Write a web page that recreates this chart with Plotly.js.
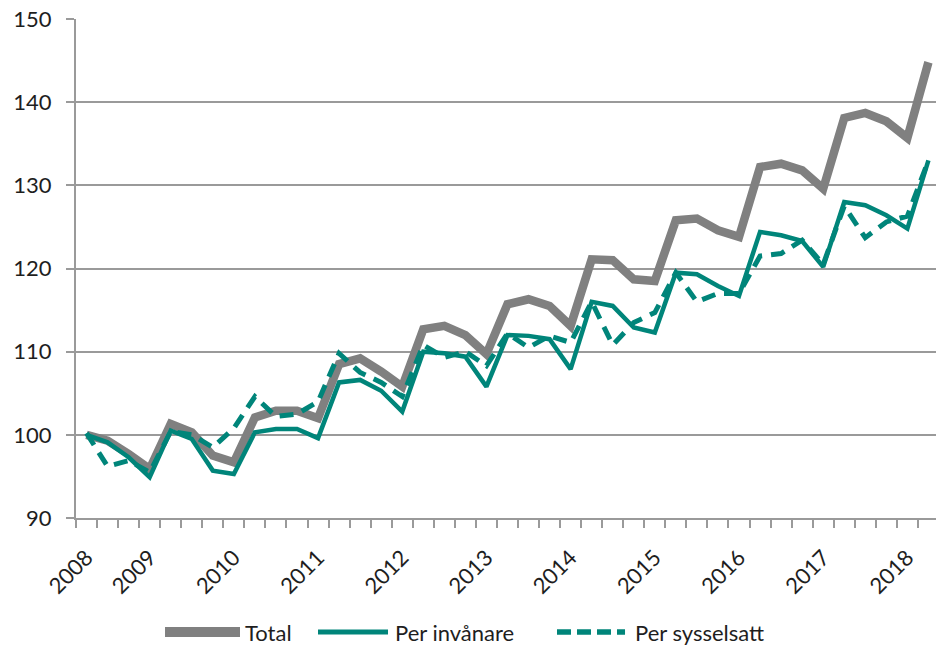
<!DOCTYPE html>
<html>
<head>
<meta charset="utf-8">
<script src="https://cdn.plot.ly/plotly-3.0.1.min.js"></script>
<style>
  html, body { margin: 0; padding: 0; background: #ffffff; overflow: hidden; }
  #chart { width: 936px; height: 647px; }
</style>
</head>
<body>
<div id="chart"></div>
<script>
// Quarterly index series (first quarter shown = 100)
const quarterIndex = Array.from({length: 41}, (_, i) => i);
const yearLabels = ["2008", "2009", "2010", "2011", "2012", "2013", "2014", "2015", "2016", "2017", "2018"];
const yearLabelPositions = [0, 3, 7, 11, 15, 19, 23, 27, 31, 35, 39];
const seriesNames = ["Total", "Per invånare", "Per sysselsatt"];

const total = [100.0, 99.3, 97.7, 95.9, 101.3, 100.3, 97.5, 96.7, 102.1, 102.9,
               102.9, 102.0, 108.5, 109.2, 107.6, 105.8, 112.7, 113.1, 112.0, 109.7,
               115.7, 116.3, 115.5, 113.1, 121.1, 121.0, 118.7, 118.5, 125.8, 126.0,
               124.6, 123.8, 132.2, 132.6, 131.8, 129.6, 138.1, 138.7, 137.7, 135.7,
               144.8];
const perInvanare = [100.0, 99.1, 97.3, 94.9, 100.5, 99.5, 95.7, 95.3, 100.3, 100.7,
                     100.7, 99.6, 106.3, 106.6, 105.3, 102.8, 110.0, 109.8, 109.4, 105.8,
                     112.0, 111.9, 111.5, 107.9, 116.0, 115.5, 112.9, 112.3, 119.5, 119.3,
                     117.9, 116.7, 124.4, 124.0, 123.3, 120.2, 128.0, 127.6, 126.4, 124.8,
                     133.0];
const perSysselsatt = [100.2, 96.2, 96.9, 95.5, 100.4, 100.0, 98.5, 100.8, 104.6, 102.2,
                       102.5, 104.0, 109.8, 107.5, 106.3, 104.6, 110.8, 109.3, 110.0, 108.3,
                       112.2, 110.5, 111.9, 111.1, 116.0, 110.8, 113.5, 114.7, 119.5, 116.0,
                       117.0, 117.0, 121.5, 121.8, 123.4, 120.5, 127.5, 123.7, 125.6, 126.3,
                       133.0];
const yTicks = [90, 100, 110, 120, 130, 140, 150];

const GREY = '#808080';
const TEAL = '#00857a';
const FONT = 'Lato, "Open Sans", sans-serif';
const TEXT = '#1e1e1e';
const AXIS = '#9a9a9a';

const traces = [
  { x: quarterIndex, y: total, name: seriesNames[0], mode: 'lines',
    line: { color: GREY, width: 8.5 } },
  { x: quarterIndex, y: perInvanare, name: seriesNames[1], mode: 'lines',
    line: { color: TEAL, width: 4.5 } },
  { x: quarterIndex, y: perSysselsatt, name: seriesNames[2], mode: 'lines',
    line: { color: TEAL, width: 5, dash: '14px,9px' } }
];

// custom legend (line samples + labels), placed below the plot
const legendItems = [
  { x0: 0.1035, x1: 0.1907, tx: 0.1945, color: GREY, width: 10, dash: 'solid' },
  { x0: 0.2814, x1: 0.3628, tx: 0.3690, color: TEAL, width: 5, dash: 'solid' },
  { x0: 0.5593, x1: 0.6384, tx: 0.6480, color: TEAL, width: 5.5, dash: '14px,6px' }
];
const legY = -0.2285;
const shapes = legendItems.map(it => ({
  type: 'line', xref: 'paper', yref: 'paper', x0: it.x0, x1: it.x1, y0: legY, y1: legY,
  line: { color: it.color, width: it.width, dash: it.dash }
}));
const annotations = legendItems.map((it, k) => ({
  xref: 'paper', yref: 'paper', x: it.tx, y: legY, xanchor: 'left', yanchor: 'middle',
  align: 'left',
  text: seriesNames[k], showarrow: false, font: { family: FONT, size: 22, color: TEXT }
}));

const layout = {
  width: 936, height: 647,
  margin: { l: 76, r: 0, t: 19, b: 129 },
  paper_bgcolor: '#ffffff', plot_bgcolor: '#ffffff',
  showlegend: false,
  font: { family: FONT, size: 22, color: TEXT },
  xaxis: {
    range: [-0.5, 40.36],
    tickmode: 'array', tickvals: yearLabelPositions, ticktext: yearLabels,
    tickangle: -45, ticks: 'outside', ticklen: 16, tickcolor: 'rgba(0,0,0,0)',
    showgrid: false, zeroline: false,
    showline: true, linecolor: AXIS, linewidth: 2,
    tickfont: { family: FONT, size: 22, color: TEXT },
    minor: { tickmode: 'linear', tick0: -0.5, dtick: 1, ticks: 'outside', ticklen: 8,
             tickwidth: 2, tickcolor: AXIS, showgrid: false }
  },
  yaxis: {
    range: [90, 150], tickmode: 'array', tickvals: yTicks,
    ticks: 'outside', ticklen: 8, tickwidth: 2, tickcolor: AXIS,
    showgrid: true, gridcolor: AXIS, gridwidth: 2, zeroline: false,
    showline: true, linecolor: AXIS, linewidth: 2,
    ticklabelstandoff: 10,
    tickfont: { family: FONT, size: 22, color: TEXT }
  },
  shapes: shapes,
  annotations: annotations
};

Plotly.newPlot('chart', traces, layout, { displayModeBar: false, staticPlot: true });
</script>
</body>
</html>
